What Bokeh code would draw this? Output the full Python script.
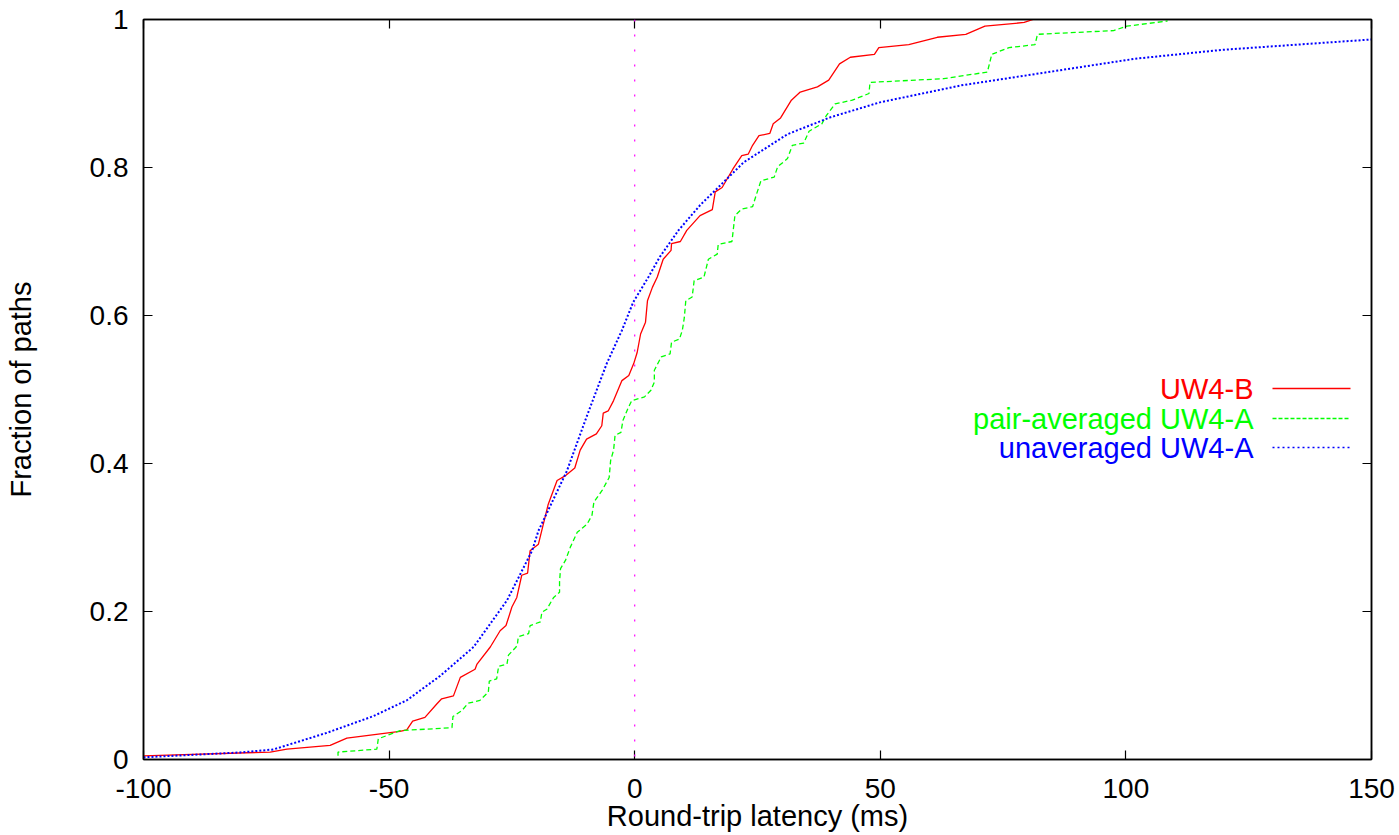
from bokeh.plotting import figure
from bokeh.models import (FixedTicker, LinearAxis, Span, Label, Arrow, Range1d, Title)
from bokeh.embed import file_html
from bokeh.resources import INLINE

# ---------------- data ----------------
red_x = [-100, -74.2, -70.8, -62, -58.6, -47.8, -46.4, -45.2, -42.7, -40.3, -39.3, -36.9,
         -35.5, -32.5, -32.1, -29.4, -27.4, -26.2, -25.0, -24.0, -23.0, -21.8, -21.3, -19.6,
         -18.6, -17.6, -15.8, -14.0, -12.2, -11.1, -9.8, -7.8, -6.7, -6.4, -5.4, -4.3, -2.6,
         -1.2, -0.2, 0.5, 1.2, 2.2, 2.6, 3.6, 4.6, 5.8, 7.4, 7.5, 9.3, 10.6, 13.3, 15.8, 16.4,
         17.8, 20.0, 21.8, 23.1, 24.0, 25.3, 27.5, 28.2, 29.7, 31.9, 33.7, 37.2, 39.5, 41.7,
         43.9, 48.8, 49.7, 55.8, 61.6, 67.4, 71.3, 79.3, 81.1]
red_y = [0.005, 0.010, 0.014, 0.019, 0.029, 0.038, 0.040, 0.052, 0.057, 0.075, 0.082, 0.086,
         0.111, 0.122, 0.129, 0.152, 0.174, 0.181, 0.206, 0.219, 0.249, 0.252, 0.282, 0.291,
         0.318, 0.345, 0.377, 0.384, 0.394, 0.418, 0.433, 0.440, 0.451, 0.468, 0.471, 0.485,
         0.512, 0.519, 0.535, 0.550, 0.575, 0.591, 0.620, 0.638, 0.652, 0.676, 0.688, 0.697,
         0.700, 0.715, 0.735, 0.743, 0.767, 0.773, 0.798, 0.816, 0.818, 0.830, 0.843, 0.846,
         0.859, 0.867, 0.891, 0.902, 0.909, 0.918, 0.940, 0.949, 0.953, 0.962, 0.966, 0.976,
         0.980, 0.991, 0.996, 1.0]

green_x = [-60.4, -60.4, -52.5, -52.2, -47.8, -37.2, -37.0, -35.2, -33.9, -31.5, -29.8, -29.6,
           -28.1, -27.7, -26.0, -25.7, -24.3, -23.9, -23.7, -21.6, -21.3, -19.2, -18.9, -17.9,
           -16.5, -15.3, -15.3, -15.1, -14.1, -13.1, -11.7, -9.7, -8.7, -8.3, -6.6, -5.2, -4.9,
           -4.3, -4.0, -2.8, -2.4, -1.4, -0.6, 2.0, 3.3, 4.0, 4.0, 5.4, 7.2, 7.5, 9.1, 9.7, 10.1,
           10.4, 11.7, 12.1, 14.1, 15.0, 16.8, 17.0, 19.8, 20.4, 21.8, 24.0, 24.8, 25.7, 28.4,
           29.1, 31.1, 32.1, 34.4, 35.5, 38.1, 39.0, 40.8, 44.3, 47.7, 47.9, 62.9, 71.8, 72.7,
           76.2, 81.5, 82.0, 97.5, 100.2, 108.5]
green_y = [0.005, 0.010, 0.014, 0.028, 0.039, 0.043, 0.058, 0.066, 0.076, 0.080, 0.091, 0.106,
           0.109, 0.126, 0.129, 0.141, 0.151, 0.154, 0.166, 0.170, 0.181, 0.186, 0.199, 0.203,
           0.219, 0.226, 0.240, 0.258, 0.269, 0.287, 0.307, 0.318, 0.330, 0.348, 0.364, 0.381,
           0.404, 0.418, 0.438, 0.442, 0.458, 0.474, 0.485, 0.490, 0.499, 0.510, 0.526, 0.544,
           0.548, 0.564, 0.568, 0.580, 0.597, 0.620, 0.625, 0.647, 0.652, 0.676, 0.683, 0.696,
           0.700, 0.735, 0.744, 0.747, 0.764, 0.782, 0.787, 0.801, 0.812, 0.830, 0.833, 0.849,
           0.859, 0.870, 0.886, 0.891, 0.900, 0.915, 0.920, 0.929, 0.953, 0.962, 0.966, 0.980,
           0.985, 0.991, 0.998]

blue_x = [-100, -80.3, -73.6, -62.7, -53.2, -46.4, -39.6, -32.8, -26.0, -20.9, -19.6, -13.8,
          -9.8, -5.7, -2.6, -0.3, 2.8, 5.1, 8.9, 13.3, 22.2, 31.1, 39.9, 49.9, 66.5, 84.2,
          101.9, 119.6, 150]
blue_y = [0.003, 0.0095, 0.0135, 0.036, 0.0586, 0.080, 0.113, 0.152, 0.215, 0.282, 0.309, 0.390,
          0.463, 0.535, 0.580, 0.618, 0.652, 0.679, 0.715, 0.749, 0.807, 0.845, 0.868, 0.888,
          0.911, 0.929, 0.947, 0.959, 0.973]

series_names = ["UW4-B", "pair-averaged UW4-A", "unaveraged UW4-A"]
x_ticks = [-100, -50, 0, 50, 100, 150]
x_tick_labels = ["-100", "-50", "0", "50", "100", "150"]
y_ticks = [0, 0.2, 0.4, 0.6, 0.8, 1]
y_tick_labels = ["0", "0.2", "0.4", "0.6", "0.8", "1"]
x_title = "Round-trip latency (ms)"
y_title = "Fraction of paths"

FONT = "Liberation Sans"
FS = "28px"
FS_T = "29px"

# ---------------- figure ----------------
p = figure(width=1399, height=835, output_backend="svg", toolbar_location=None,
           x_range=Range1d(-100, 150), y_range=Range1d(0, 1),
           min_border_left=143, min_border_right=28, min_border_top=19, min_border_bottom=76)
p.background_fill_color = "white"
p.border_fill_color = "white"
p.xgrid.visible = False
p.ygrid.visible = False
p.outline_line_color = "black"
p.outline_line_width = 1.5

for ax in p.xaxis + p.yaxis:
    ax.major_tick_in = 9
    ax.major_tick_out = 0
    ax.minor_tick_in = 0
    ax.minor_tick_out = 0
    ax.axis_line_color = "black"
    ax.axis_line_width = 1.5
    ax.major_tick_line_width = 1.2
    ax.major_label_text_font = FONT
    ax.major_label_text_font_size = FS
    ax.major_label_text_color = "black"
    ax.axis_label_text_font = FONT
    ax.axis_label_text_font_size = FS_T
    ax.axis_label_text_font_style = "normal"
    ax.axis_label_text_color = "black"

p.xaxis.ticker = FixedTicker(ticks=x_ticks)
p.yaxis.ticker = FixedTicker(ticks=y_ticks)
p.xaxis.major_label_overrides = {t: l for t, l in zip(x_ticks, x_tick_labels)}
p.yaxis.major_label_overrides = {t: l for t, l in zip(y_ticks, y_tick_labels)}
p.yaxis.axis_label = y_title
p.xaxis.major_label_standoff = 19
p.yaxis.major_label_standoff = 15
p.yaxis.axis_label_standoff = 50

# x-axis title as a title panel below the axis
p.add_layout(Title(text=x_title, align="center", text_font=FONT, text_font_size=FS_T,
                   text_font_style="normal", text_color="black", standoff=-5,
                   offset=0), "below")

# mirror ticks (no labels)
top = LinearAxis(ticker=FixedTicker(ticks=x_ticks), major_tick_in=9, major_tick_out=0,
                 minor_tick_in=0, minor_tick_out=0,
                 major_label_overrides={t: "" for t in x_ticks},
                 major_label_standoff=0, axis_line_width=1.5, major_tick_line_width=1.2)
right = LinearAxis(ticker=FixedTicker(ticks=y_ticks), major_tick_in=9, major_tick_out=0,
                   minor_tick_in=0, minor_tick_out=0,
                   major_label_overrides={t: "" for t in y_ticks},
                   major_label_standoff=0, axis_line_width=1.5, major_tick_line_width=1.2)
p.add_layout(top, "above")
p.add_layout(right, "right")

# zero line
p.add_layout(Span(location=0, dimension="height", line_color="#ff00ff",
                  line_width=1.2, line_dash="2 13"))

# series
p.line(red_x, red_y, line_color="#ff0000", line_width=1.3)
p.line(green_x, green_y, line_color="#00ff00", line_width=1.3, line_dash="5 3")
p.line(blue_x, blue_y, line_color="#0000ff", line_width=2, line_dash="2 2")

# legend (gnuplot style: right-aligned text, sample to the right)
colors = ["#ff0000", "#00ff00", "#0000ff"]
dashes = ["solid", "4 2", "2 3"]
widths = [1.3, 1.3, 1.6]
rows_y = [371, 341, 312]
for name, c, d, w, yy in zip(series_names, colors, dashes, widths, rows_y):
    p.add_layout(Label(x=1110, y=yy, x_units="screen", y_units="screen", text=name,
                       text_color=c, text_font=FONT, text_font_size=FS_T,
                       text_align="right", text_baseline="middle"))
    p.add_layout(Arrow(x_start=1129, y_start=yy, x_end=1207, y_end=yy,
                       start_units="screen", end_units="screen", start=None, end=None,
                       line_color=c, line_width=w, line_dash=d))

open("out.html", "w").write(file_html(p, INLINE))
